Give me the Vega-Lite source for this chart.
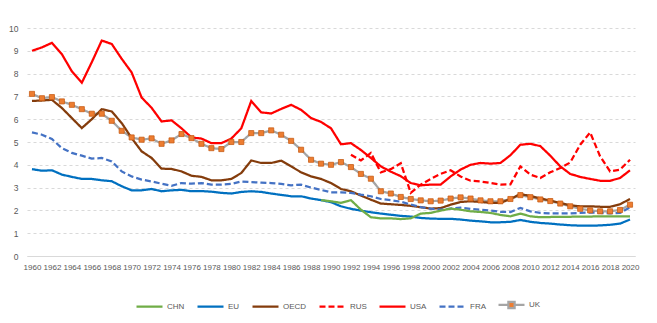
{
  "$schema": "https://vega.github.io/schema/vega-lite/v6.json",
  "autosize": {"type": "none"},
  "width": 608,
  "height": 228,
  "padding": {"left": 27, "top": 28, "right": 22, "bottom": 67},
  "background": "white",
  "config": {"view": {"stroke": null}, "font": "Liberation Sans"},
  "data": {"values": [
    {"series":"USA","year":1960,"value":9.0},{"series":"USA","year":1961,"value":9.15},{"series":"USA","year":1962,"value":9.35},{"series":"USA","year":1963,"value":8.85},{"series":"USA","year":1964,"value":8.1},{"series":"USA","year":1965,"value":7.6},{"series":"USA","year":1966,"value":8.5},{"series":"USA","year":1967,"value":9.45},{"series":"USA","year":1968,"value":9.3},{"series":"USA","year":1969,"value":8.65},{"series":"USA","year":1970,"value":8.05},{"series":"USA","year":1971,"value":6.95},{"series":"USA","year":1972,"value":6.5},{"series":"USA","year":1973,"value":5.9},{"series":"USA","year":1974,"value":5.95},{"series":"USA","year":1975,"value":5.6},{"series":"USA","year":1976,"value":5.2},{"series":"USA","year":1977,"value":5.15},{"series":"USA","year":1978,"value":4.95},{"series":"USA","year":1979,"value":4.95},{"series":"USA","year":1980,"value":5.15},{"series":"USA","year":1981,"value":5.6},{"series":"USA","year":1982,"value":6.8},{"series":"USA","year":1983,"value":6.3},{"series":"USA","year":1984,"value":6.25},{"series":"USA","year":1985,"value":6.45},{"series":"USA","year":1986,"value":6.63},{"series":"USA","year":1987,"value":6.41},{"series":"USA","year":1988,"value":6.05},{"series":"USA","year":1989,"value":5.88},{"series":"USA","year":1990,"value":5.6},{"series":"USA","year":1991,"value":4.9},{"series":"USA","year":1992,"value":4.95},{"series":"USA","year":1993,"value":4.65},{"series":"USA","year":1994,"value":4.3},{"series":"USA","year":1995,"value":3.93},{"series":"USA","year":1996,"value":3.7},{"series":"USA","year":1997,"value":3.5},{"series":"USA","year":1998,"value":3.2},{"series":"USA","year":1999,"value":3.1},{"series":"USA","year":2000,"value":3.13},{"series":"USA","year":2001,"value":3.13},{"series":"USA","year":2002,"value":3.49},{"series":"USA","year":2003,"value":3.79},{"series":"USA","year":2004,"value":4.0},{"series":"USA","year":2005,"value":4.08},{"series":"USA","year":2006,"value":4.05},{"series":"USA","year":2007,"value":4.08},{"series":"USA","year":2008,"value":4.42},{"series":"USA","year":2009,"value":4.88},{"series":"USA","year":2010,"value":4.92},{"series":"USA","year":2011,"value":4.82},{"series":"USA","year":2012,"value":4.4},{"series":"USA","year":2013,"value":3.93},{"series":"USA","year":2014,"value":3.6},{"series":"USA","year":2015,"value":3.47},{"series":"USA","year":2016,"value":3.38},{"series":"USA","year":2017,"value":3.3},{"series":"USA","year":2018,"value":3.3},{"series":"USA","year":2019,"value":3.42},{"series":"USA","year":2020,"value":3.76},
    {"series":"RUS","year":1992,"value":4.44},{"series":"RUS","year":1993,"value":4.19},{"series":"RUS","year":1994,"value":4.52},{"series":"RUS","year":1995,"value":3.67},{"series":"RUS","year":1996,"value":3.81},{"series":"RUS","year":1997,"value":4.07},{"series":"RUS","year":1998,"value":2.77},{"series":"RUS","year":1999,"value":3.13},{"series":"RUS","year":2000,"value":3.38},{"series":"RUS","year":2001,"value":3.6},{"series":"RUS","year":2002,"value":3.76},{"series":"RUS","year":2003,"value":3.49},{"series":"RUS","year":2004,"value":3.3},{"series":"RUS","year":2005,"value":3.27},{"series":"RUS","year":2006,"value":3.2},{"series":"RUS","year":2007,"value":3.13},{"series":"RUS","year":2008,"value":3.14},{"series":"RUS","year":2009,"value":3.93},{"series":"RUS","year":2010,"value":3.57},{"series":"RUS","year":2011,"value":3.42},{"series":"RUS","year":2012,"value":3.67},{"series":"RUS","year":2013,"value":3.86},{"series":"RUS","year":2014,"value":4.1},{"series":"RUS","year":2015,"value":4.88},{"series":"RUS","year":2016,"value":5.42},{"series":"RUS","year":2017,"value":4.37},{"series":"RUS","year":2018,"value":3.71},{"series":"RUS","year":2019,"value":3.79},{"series":"RUS","year":2020,"value":4.22},
    {"series":"UK","year":1960,"value":7.11},{"series":"UK","year":1961,"value":6.92},{"series":"UK","year":1962,"value":6.97},{"series":"UK","year":1963,"value":6.78},{"series":"UK","year":1964,"value":6.63},{"series":"UK","year":1965,"value":6.44},{"series":"UK","year":1966,"value":6.24},{"series":"UK","year":1967,"value":6.24},{"series":"UK","year":1968,"value":5.93},{"series":"UK","year":1969,"value":5.49},{"series":"UK","year":1970,"value":5.2},{"series":"UK","year":1971,"value":5.1},{"series":"UK","year":1972,"value":5.16},{"series":"UK","year":1973,"value":4.92},{"series":"UK","year":1974,"value":5.07},{"series":"UK","year":1975,"value":5.35},{"series":"UK","year":1976,"value":5.17},{"series":"UK","year":1977,"value":4.92},{"series":"UK","year":1978,"value":4.73},{"series":"UK","year":1979,"value":4.69},{"series":"UK","year":1980,"value":5.0},{"series":"UK","year":1981,"value":5.0},{"series":"UK","year":1982,"value":5.39},{"series":"UK","year":1983,"value":5.39},{"series":"UK","year":1984,"value":5.51},{"series":"UK","year":1985,"value":5.32},{"series":"UK","year":1986,"value":5.05},{"series":"UK","year":1987,"value":4.66},{"series":"UK","year":1988,"value":4.22},{"series":"UK","year":1989,"value":4.05},{"series":"UK","year":1990,"value":4.0},{"series":"UK","year":1991,"value":4.12},{"series":"UK","year":1992,"value":3.9},{"series":"UK","year":1993,"value":3.6},{"series":"UK","year":1994,"value":3.39},{"series":"UK","year":1995,"value":2.84},{"series":"UK","year":1996,"value":2.74},{"series":"UK","year":1997,"value":2.59},{"series":"UK","year":1998,"value":2.5},{"series":"UK","year":1999,"value":2.44},{"series":"UK","year":2000,"value":2.4},{"series":"UK","year":2001,"value":2.43},{"series":"UK","year":2002,"value":2.52},{"series":"UK","year":2003,"value":2.57},{"series":"UK","year":2004,"value":2.52},{"series":"UK","year":2005,"value":2.44},{"series":"UK","year":2006,"value":2.4},{"series":"UK","year":2007,"value":2.4},{"series":"UK","year":2008,"value":2.5},{"series":"UK","year":2009,"value":2.67},{"series":"UK","year":2010,"value":2.58},{"series":"UK","year":2011,"value":2.48},{"series":"UK","year":2012,"value":2.41},{"series":"UK","year":2013,"value":2.3},{"series":"UK","year":2014,"value":2.18},{"series":"UK","year":2015,"value":2.07},{"series":"UK","year":2016,"value":2.0},{"series":"UK","year":2017,"value":1.96},{"series":"UK","year":2018,"value":1.96},{"series":"UK","year":2019,"value":2.02},{"series":"UK","year":2020,"value":2.25},
    {"series":"OECD","year":1960,"value":6.8},{"series":"OECD","year":1961,"value":6.82},{"series":"OECD","year":1962,"value":6.85},{"series":"OECD","year":1963,"value":6.49},{"series":"OECD","year":1964,"value":6.05},{"series":"OECD","year":1965,"value":5.61},{"series":"OECD","year":1966,"value":6.0},{"series":"OECD","year":1967,"value":6.44},{"series":"OECD","year":1968,"value":6.34},{"series":"OECD","year":1969,"value":5.83},{"series":"OECD","year":1970,"value":5.17},{"series":"OECD","year":1971,"value":4.59},{"series":"OECD","year":1972,"value":4.3},{"series":"OECD","year":1973,"value":3.83},{"series":"OECD","year":1974,"value":3.82},{"series":"OECD","year":1975,"value":3.71},{"series":"OECD","year":1976,"value":3.52},{"series":"OECD","year":1977,"value":3.47},{"series":"OECD","year":1978,"value":3.32},{"series":"OECD","year":1979,"value":3.32},{"series":"OECD","year":1980,"value":3.38},{"series":"OECD","year":1981,"value":3.64},{"series":"OECD","year":1982,"value":4.19},{"series":"OECD","year":1983,"value":4.08},{"series":"OECD","year":1984,"value":4.08},{"series":"OECD","year":1985,"value":4.18},{"series":"OECD","year":1986,"value":3.93},{"series":"OECD","year":1987,"value":3.67},{"series":"OECD","year":1988,"value":3.49},{"series":"OECD","year":1989,"value":3.38},{"series":"OECD","year":1990,"value":3.2},{"series":"OECD","year":1991,"value":2.94},{"series":"OECD","year":1992,"value":2.84},{"series":"OECD","year":1993,"value":2.65},{"series":"OECD","year":1994,"value":2.47},{"series":"OECD","year":1995,"value":2.3},{"series":"OECD","year":1996,"value":2.27},{"series":"OECD","year":1997,"value":2.24},{"series":"OECD","year":1998,"value":2.2},{"series":"OECD","year":1999,"value":2.14},{"series":"OECD","year":2000,"value":2.08},{"series":"OECD","year":2001,"value":2.1},{"series":"OECD","year":2002,"value":2.25},{"series":"OECD","year":2003,"value":2.37},{"series":"OECD","year":2004,"value":2.4},{"series":"OECD","year":2005,"value":2.37},{"series":"OECD","year":2006,"value":2.33},{"series":"OECD","year":2007,"value":2.33},{"series":"OECD","year":2008,"value":2.5},{"series":"OECD","year":2009,"value":2.72},{"series":"OECD","year":2010,"value":2.63},{"series":"OECD","year":2011,"value":2.53},{"series":"OECD","year":2012,"value":2.43},{"series":"OECD","year":2013,"value":2.33},{"series":"OECD","year":2014,"value":2.22},{"series":"OECD","year":2015,"value":2.18},{"series":"OECD","year":2016,"value":2.18},{"series":"OECD","year":2017,"value":2.16},{"series":"OECD","year":2018,"value":2.16},{"series":"OECD","year":2019,"value":2.27},{"series":"OECD","year":2020,"value":2.5},
    {"series":"FRA","year":1960,"value":5.42},{"series":"FRA","year":1961,"value":5.32},{"series":"FRA","year":1962,"value":5.13},{"series":"FRA","year":1963,"value":4.73},{"series":"FRA","year":1964,"value":4.52},{"series":"FRA","year":1965,"value":4.4},{"series":"FRA","year":1966,"value":4.27},{"series":"FRA","year":1967,"value":4.3},{"series":"FRA","year":1968,"value":4.15},{"series":"FRA","year":1969,"value":3.71},{"series":"FRA","year":1970,"value":3.49},{"series":"FRA","year":1971,"value":3.35},{"series":"FRA","year":1972,"value":3.27},{"series":"FRA","year":1973,"value":3.17},{"series":"FRA","year":1974,"value":3.08},{"series":"FRA","year":1975,"value":3.2},{"series":"FRA","year":1976,"value":3.17},{"series":"FRA","year":1977,"value":3.2},{"series":"FRA","year":1978,"value":3.13},{"series":"FRA","year":1979,"value":3.13},{"series":"FRA","year":1980,"value":3.16},{"series":"FRA","year":1981,"value":3.27},{"series":"FRA","year":1982,"value":3.24},{"series":"FRA","year":1983,"value":3.22},{"series":"FRA","year":1984,"value":3.2},{"series":"FRA","year":1985,"value":3.16},{"series":"FRA","year":1986,"value":3.1},{"series":"FRA","year":1987,"value":3.13},{"series":"FRA","year":1988,"value":3.0},{"series":"FRA","year":1989,"value":2.9},{"series":"FRA","year":1990,"value":2.79},{"series":"FRA","year":1991,"value":2.79},{"series":"FRA","year":1992,"value":2.77},{"series":"FRA","year":1993,"value":2.69},{"series":"FRA","year":1994,"value":2.62},{"series":"FRA","year":1995,"value":2.5},{"series":"FRA","year":1996,"value":2.45},{"series":"FRA","year":1997,"value":2.38},{"series":"FRA","year":1998,"value":2.26},{"series":"FRA","year":1999,"value":2.14},{"series":"FRA","year":2000,"value":2.08},{"series":"FRA","year":2001,"value":2.03},{"series":"FRA","year":2002,"value":2.08},{"series":"FRA","year":2003,"value":2.12},{"series":"FRA","year":2004,"value":2.07},{"series":"FRA","year":2005,"value":2.03},{"series":"FRA","year":2006,"value":1.99},{"series":"FRA","year":2007,"value":1.94},{"series":"FRA","year":2008,"value":1.93},{"series":"FRA","year":2009,"value":2.11},{"series":"FRA","year":2010,"value":1.96},{"series":"FRA","year":2011,"value":1.89},{"series":"FRA","year":2012,"value":1.87},{"series":"FRA","year":2013,"value":1.87},{"series":"FRA","year":2014,"value":1.87},{"series":"FRA","year":2015,"value":1.89},{"series":"FRA","year":2016,"value":1.91},{"series":"FRA","year":2017,"value":1.89},{"series":"FRA","year":2018,"value":1.87},{"series":"FRA","year":2019,"value":1.89},{"series":"FRA","year":2020,"value":2.13},
    {"series":"EU","year":1960,"value":3.81},{"series":"EU","year":1961,"value":3.74},{"series":"EU","year":1962,"value":3.76},{"series":"EU","year":1963,"value":3.57},{"series":"EU","year":1964,"value":3.47},{"series":"EU","year":1965,"value":3.38},{"series":"EU","year":1966,"value":3.38},{"series":"EU","year":1967,"value":3.32},{"series":"EU","year":1968,"value":3.28},{"series":"EU","year":1969,"value":3.06},{"series":"EU","year":1970,"value":2.88},{"series":"EU","year":1971,"value":2.88},{"series":"EU","year":1972,"value":2.94},{"series":"EU","year":1973,"value":2.84},{"series":"EU","year":1974,"value":2.88},{"series":"EU","year":1975,"value":2.9},{"series":"EU","year":1976,"value":2.84},{"series":"EU","year":1977,"value":2.85},{"series":"EU","year":1978,"value":2.82},{"series":"EU","year":1979,"value":2.77},{"series":"EU","year":1980,"value":2.74},{"series":"EU","year":1981,"value":2.81},{"series":"EU","year":1982,"value":2.84},{"series":"EU","year":1983,"value":2.81},{"series":"EU","year":1984,"value":2.74},{"series":"EU","year":1985,"value":2.68},{"series":"EU","year":1986,"value":2.62},{"series":"EU","year":1987,"value":2.62},{"series":"EU","year":1988,"value":2.52},{"series":"EU","year":1989,"value":2.45},{"series":"EU","year":1990,"value":2.36},{"series":"EU","year":1991,"value":2.18},{"series":"EU","year":1992,"value":2.07},{"series":"EU","year":1993,"value":1.99},{"series":"EU","year":1994,"value":1.92},{"series":"EU","year":1995,"value":1.86},{"series":"EU","year":1996,"value":1.81},{"series":"EU","year":1997,"value":1.76},{"series":"EU","year":1998,"value":1.73},{"series":"EU","year":1999,"value":1.67},{"series":"EU","year":2000,"value":1.64},{"series":"EU","year":2001,"value":1.63},{"series":"EU","year":2002,"value":1.63},{"series":"EU","year":2003,"value":1.6},{"series":"EU","year":2004,"value":1.55},{"series":"EU","year":2005,"value":1.52},{"series":"EU","year":2006,"value":1.48},{"series":"EU","year":2007,"value":1.48},{"series":"EU","year":2008,"value":1.5},{"series":"EU","year":2009,"value":1.58},{"series":"EU","year":2010,"value":1.5},{"series":"EU","year":2011,"value":1.45},{"series":"EU","year":2012,"value":1.42},{"series":"EU","year":2013,"value":1.38},{"series":"EU","year":2014,"value":1.35},{"series":"EU","year":2015,"value":1.33},{"series":"EU","year":2016,"value":1.33},{"series":"EU","year":2017,"value":1.34},{"series":"EU","year":2018,"value":1.37},{"series":"EU","year":2019,"value":1.42},{"series":"EU","year":2020,"value":1.6},
    {"series":"CHN","year":1989,"value":2.45},{"series":"CHN","year":1990,"value":2.4},{"series":"CHN","year":1991,"value":2.33},{"series":"CHN","year":1992,"value":2.45},{"series":"CHN","year":1993,"value":2.03},{"series":"CHN","year":1994,"value":1.7},{"series":"CHN","year":1995,"value":1.65},{"series":"CHN","year":1996,"value":1.65},{"series":"CHN","year":1997,"value":1.62},{"series":"CHN","year":1998,"value":1.65},{"series":"CHN","year":1999,"value":1.86},{"series":"CHN","year":2000,"value":1.89},{"series":"CHN","year":2001,"value":1.99},{"series":"CHN","year":2002,"value":2.08},{"series":"CHN","year":2003,"value":2.03},{"series":"CHN","year":2004,"value":1.96},{"series":"CHN","year":2005,"value":1.93},{"series":"CHN","year":2006,"value":1.89},{"series":"CHN","year":2007,"value":1.8},{"series":"CHN","year":2008,"value":1.74},{"series":"CHN","year":2009,"value":1.86},{"series":"CHN","year":2010,"value":1.74},{"series":"CHN","year":2011,"value":1.7},{"series":"CHN","year":2012,"value":1.71},{"series":"CHN","year":2013,"value":1.72},{"series":"CHN","year":2014,"value":1.72},{"series":"CHN","year":2015,"value":1.73},{"series":"CHN","year":2016,"value":1.73},{"series":"CHN","year":2017,"value":1.74},{"series":"CHN","year":2018,"value":1.74},{"series":"CHN","year":2019,"value":1.74},{"series":"CHN","year":2020,"value":1.74}
  ]},
  "encoding": {
    "x": {"field": "year", "type": "quantitative",
      "scale": {"domain": [1959.5, 2020.5], "nice": false, "zero": false},
      "axis": {"title": null, "values": [1960,1962,1964,1966,1968,1970,1972,1974,1976,1978,1980,1982,1984,1986,1988,1990,1992,1994,1996,1998,2000,2002,2004,2006,2008,2010,2012,2014,2016,2018,2020],
        "format": "d", "labelAngle": 0, "ticks": false, "grid": false, "labelOverlap": false, "labelFlush": false,
        "domainColor": "#D9D9D9", "labelColor": "#595959", "labelFontSize": 8, "labelPadding": 7}},
    "y": {"field": "value", "type": "quantitative",
      "scale": {"domain": [0, 10], "nice": false},
      "axis": {"title": null, "values": [0,1,2,3,4,5,6,7,8,9,10], "ticks": false, "domain": false,
        "grid": true, "gridColor": "#D9D9D9", "gridDash": [3, 3], "gridWidth": 1,
        "labelColor": "#595959", "labelFontSize": 8.5, "labelPadding": 9}}
  },
  "layer": [
    {
      "mark": {"type": "line", "interpolate": "linear"},
      "encoding": {
        "color": {"field": "series", "type": "nominal",
          "scale": {"domain": ["CHN","EU","OECD","RUS","USA","FRA","UK"],
                    "range": ["#70AD47","#0070C0","#843C0C","#FF0000","#FF0000","#4472C4","#A5A5A5"]},
          "legend": {"title": null, "orient": "none", "direction": "horizontal", "legendX": 108, "legendY": 262,
            "symbolType": "stroke", "symbolSize": 676, "symbolStrokeWidth": 2.25,
            "labelFontSize": 8, "labelColor": "#595959", "labelOffset": 3, "columnPadding": 8,
            "encode": {"symbols": {"update": {
              "strokeDash": {"signal": "datum.value === 'RUS' || datum.value === 'FRA' ? [6, 3] : [1, 0]"},
              "shape": {"signal": "datum.value === 'UK' ? 'M-1,0H-0.24M0.24,0H1M-0.24,-0.24H0.24V0.24H-0.24Z' : 'stroke'"},
              "fill": {"signal": "datum.value === 'UK' ? '#ED7D31' : 'transparent'"},
              "strokeWidth": {"signal": "datum.value === 'UK' ? 1 : 2.25"}
            }}}},
          "sort": ["CHN","EU","OECD","RUS","USA","FRA","UK"]},
        "strokeDash": {"field": "series", "type": "nominal", "legend": null,
          "scale": {"domain": ["CHN","EU","OECD","RUS","USA","FRA","UK"],
                    "range": [[1,0],[1,0],[1,0],[6,3],[1,0],[6,3],[1,0]]}},
        "strokeWidth": {"field": "series", "type": "nominal", "legend": null,
          "scale": {"domain": ["CHN","EU","OECD","RUS","USA","FRA","UK"],
                    "range": [2.25,2.25,2.25,2.25,2.25,2.25,1.5]}}
      }
    },
    {
      "transform": [{"filter": "datum.series === 'UK'"}],
      "mark": {"type": "point", "shape": "square", "filled": true, "size": 26, "fill": "#ED7D31", "stroke": "#C55A11", "strokeWidth": 0.75, "opacity": 1},
      "encoding": {}
    }
  ]
}
